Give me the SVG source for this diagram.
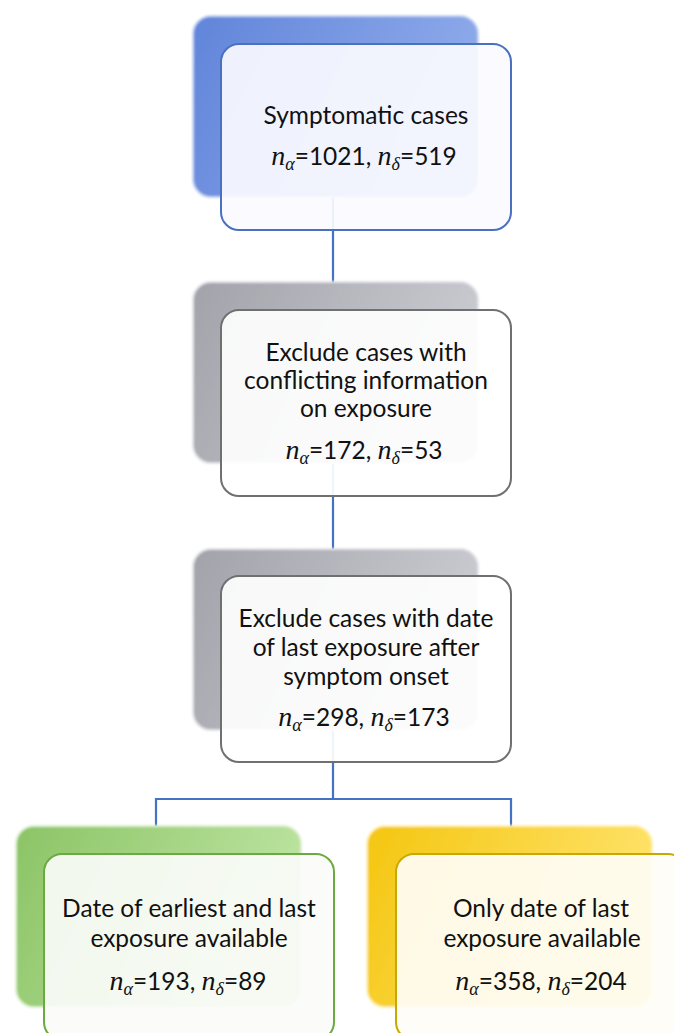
<svg xmlns="http://www.w3.org/2000/svg" width="674" height="1033" viewBox="0 0 674 1033">
<style>
.t{font-family:Lato,"Open Sans",sans-serif;font-size:24.5px;fill:#111;text-anchor:middle}
.m{font-family:"Liberation Serif",serif;font-style:italic;font-size:28px}
.s{font-family:"Liberation Serif",serif;font-style:italic;font-size:18px}
.front{stroke-width:2}
.conn{stroke:#4472c4;stroke-width:2.2;fill:none}
</style>
<defs>
<linearGradient id="gb" x1="0" y1="0" x2="1" y2="0.3"><stop offset="0" stop-color="#6185da"/><stop offset="1" stop-color="#8eaaea"/></linearGradient>
<linearGradient id="gg" x1="0" y1="0" x2="1" y2="0.3"><stop offset="0" stop-color="#a2a3aa"/><stop offset="1" stop-color="#cacbd1"/></linearGradient>
<linearGradient id="gn" x1="0" y1="0" x2="1" y2="0.3"><stop offset="0" stop-color="#8cc466"/><stop offset="1" stop-color="#bce4a0"/></linearGradient>
<linearGradient id="gy" x1="0" y1="0" x2="1" y2="0.3"><stop offset="0" stop-color="#f4c610"/><stop offset="1" stop-color="#ffe36a"/></linearGradient>
<filter id="soft" x="-5%" y="-5%" width="110%" height="110%"><feGaussianBlur stdDeviation="1"/></filter>
</defs>

<g id="connectors">
<line class="conn" x1="333" y1="196" x2="333" y2="283"/>
<line class="conn" x1="333" y1="462" x2="333" y2="549"/>
<polyline class="conn" points="333,730 333,799 156,799 156,826"/>
<polyline class="conn" points="333,799 511,799 511,827"/>
</g>

<g id="node1">
<rect x="193" y="16" width="285" height="181" rx="18" fill="url(#gb)" stroke="#c5d3f3" stroke-width="2" filter="url(#soft)"/>
<rect class="front" x="221" y="44" width="290" height="186" rx="18" fill="#fbfbff" fill-opacity="0.92" stroke="#4a70c2"/>
<text class="t" x="366" y="124">Symptomatic cases</text>
<text class="t" x="364" y="165"><tspan class="m">n</tspan><tspan class="s" dy="5">α</tspan><tspan dy="-5">=1021, </tspan><tspan class="m">n</tspan><tspan class="s" dy="5">δ</tspan><tspan dy="-5">=519</tspan></text>
</g>

<g id="node2">
<rect x="193" y="282" width="285" height="181" rx="18" fill="url(#gg)" stroke="#e2e2e6" stroke-width="2" filter="url(#soft)"/>
<rect class="front" x="221" y="310" width="290" height="186" rx="18" fill="#ffffff" fill-opacity="0.92" stroke="#707070"/>
<text class="t" x="366" y="361">Exclude cases with</text>
<text class="t" x="366" y="389">conflicting information</text>
<text class="t" x="366" y="417">on exposure</text>
<text class="t" x="364" y="459"><tspan class="m">n</tspan><tspan class="s" dy="5">α</tspan><tspan dy="-5">=172, </tspan><tspan class="m">n</tspan><tspan class="s" dy="5">δ</tspan><tspan dy="-5">=53</tspan></text>
</g>

<g id="node3">
<rect x="193" y="549" width="285" height="181" rx="18" fill="url(#gg)" stroke="#e2e2e6" stroke-width="2" filter="url(#soft)"/>
<rect class="front" x="221" y="576" width="290" height="186" rx="18" fill="#ffffff" fill-opacity="0.92" stroke="#707070"/>
<text class="t" x="366" y="627">Exclude cases with date</text>
<text class="t" x="366" y="656">of last exposure after</text>
<text class="t" x="366" y="685">symptom onset</text>
<text class="t" x="364" y="726"><tspan class="m">n</tspan><tspan class="s" dy="5">α</tspan><tspan dy="-5">=298, </tspan><tspan class="m">n</tspan><tspan class="s" dy="5">δ</tspan><tspan dy="-5">=173</tspan></text>
</g>

<g id="node4">
<rect x="16" y="826" width="285" height="181" rx="18" fill="url(#gn)" stroke="#dcefcf" stroke-width="2" filter="url(#soft)"/>
<rect class="front" x="44" y="854" width="290" height="186" rx="18" fill="#fbfcfa" fill-opacity="0.92" stroke="#6aaa40"/>
<text class="t" x="189" y="917">Date of earliest and last</text>
<text class="t" x="189" y="947">exposure available</text>
<text class="t" x="188" y="990"><tspan class="m">n</tspan><tspan class="s" dy="5">α</tspan><tspan dy="-5">=193, </tspan><tspan class="m">n</tspan><tspan class="s" dy="5">δ</tspan><tspan dy="-5">=89</tspan></text>
</g>

<g id="node5">
<rect x="367" y="826" width="285" height="181" rx="18" fill="url(#gy)" stroke="#fff0b0" stroke-width="2" filter="url(#soft)"/>
<rect class="front" x="396" y="854" width="290" height="186" rx="18" fill="#fffdf6" fill-opacity="0.92" stroke="#c9a800"/>
<text class="t" x="541" y="917">Only date of last</text>
<text class="t" x="542" y="947">exposure available</text>
<text class="t" x="541" y="990"><tspan class="m">n</tspan><tspan class="s" dy="5">α</tspan><tspan dy="-5">=358, </tspan><tspan class="m">n</tspan><tspan class="s" dy="5">δ</tspan><tspan dy="-5">=204</tspan></text>
</g>
</svg>
